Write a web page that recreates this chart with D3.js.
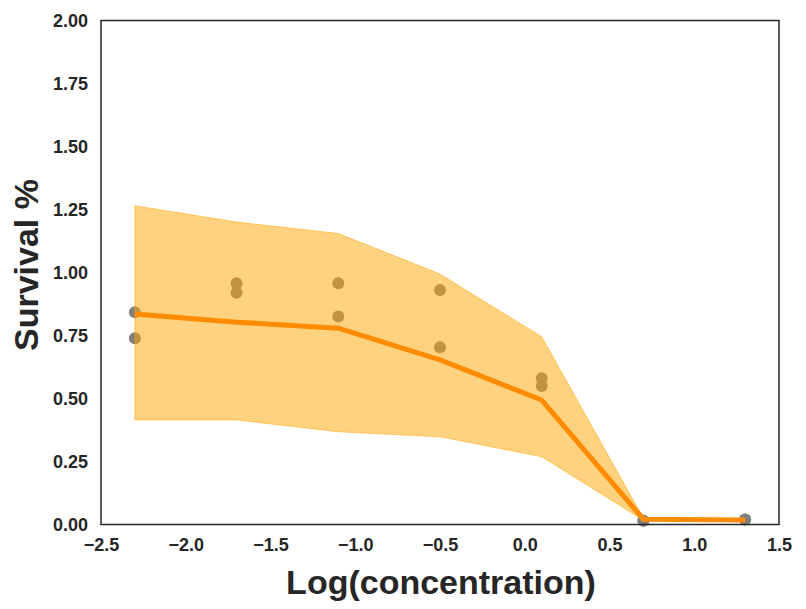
<!DOCTYPE html>
<html>
<head>
<meta charset="utf-8">
<script src="https://cdn.jsdelivr.net/npm/d3@7"></script>
<style>
  body { margin: 0; background: #fff; }
  svg { display: block; font-family: "Liberation Sans", Arial, sans-serif; }
  .tick text { font-weight: bold; fill: #262626; font-size: 18px; }
  .axisLabel { font-weight: bold; fill: #262626; font-size: 34px; }
</style>
</head>
<body>
<div id="container"></div>
<script>
// log concentrations
var logConc = [-2.3, -1.7, -1.1, -0.5, 0.1, 0.7, 1.3];
// mean survival and confidence band
var meanSurvival = [0.835, 0.803, 0.779, 0.653, 0.494, 0.021, 0.018];
var upperBand = [1.265, 1.200, 1.155, 0.994, 0.745, 0.025, 0.021];
var lowerBand = [0.415, 0.415, 0.368, 0.348, 0.269, 0.017, 0.016];
// replicate observations
var obsConc = [-2.3, -2.3, -1.7, -1.7, -1.1, -1.1, -0.5, -0.5, 0.1, 0.1, 0.7, 0.7, 1.3, 1.3];
var obsSurvival = [0.842, 0.739, 0.957, 0.920, 0.957, 0.825, 0.931, 0.703, 0.580, 0.550, 0.015, 0.015, 0.020, 0.020];
var xTicks = [-2.5, -2.0, -1.5, -1.0, -0.5, 0.0, 0.5, 1.0, 1.5];
var yTicks = [0, 0.25, 0.5, 0.75, 1.0, 1.25, 1.5, 1.75, 2.0];

var width = 806, height = 609;
var margin = { top: 20.5, right: 27, bottom: 84.5, left: 101 };

var svg = d3.select("#container")
  .append("svg")
    .attr("width", width)
    .attr("height", height);

var x = d3.scaleLinear()
  .domain([-2.5, 1.5])
  .range([margin.left, width - margin.right]);
var y = d3.scaleLinear()
  .domain([0, 2])
  .range([height - margin.bottom, margin.top]);

var bandData = logConc.map(function(d, i) {
  return { x: d, lo: lowerBand[i], hi: upperBand[i], mean: meanSurvival[i] };
});

// points first, band goes over them
svg.append("g")
  .selectAll("circle")
    .data(obsConc)
  .enter().append("circle")
    .attr("cx", function(d) { return x(d); })
    .attr("cy", function(d, i) { return y(obsSurvival[i]); })
    .attr("r", 6)
    .attr("fill", "#808080");

var area = d3.area()
  .x(function(d) { return x(d.x); })
  .y0(function(d) { return y(d.lo); })
  .y1(function(d) { return y(d.hi); });

svg.append("path")
  .attr("d", area(bandData))
  .attr("fill", "orange")
  .attr("fill-opacity", 0.5)
  .attr("stroke", "orange")
  .attr("stroke-opacity", 0.5)
  .attr("stroke-width", 1);

var line = d3.line()
  .x(function(d) { return x(d.x); })
  .y(function(d) { return y(d.mean); });

svg.append("path")
  .attr("d", line(bandData))
  .attr("fill", "none")
  .attr("stroke", "#ff8c00")
  .attr("stroke-width", 5)
  .attr("stroke-linejoin", "round");

// axes
var xAxis = d3.axisBottom(x)
  .tickValues(xTicks)
  .tickFormat(d3.format(".1f"))
  .tickSize(0)
  .tickPadding(14);
var yAxis = d3.axisLeft(y)
  .tickValues(yTicks)
  .tickFormat(d3.format(".2f"))
  .tickSize(0)
  .tickPadding(13);

var xAxisGroup = svg.append("g")
  .attr("transform", "translate(0," + (height - margin.bottom) + ")")
  .call(xAxis);
var yAxisGroup = svg.append("g")
  .attr("transform", "translate(" + margin.left + ",0)")
  .call(yAxis);
svg.selectAll(".domain").remove();
yAxisGroup.selectAll(".tick text").attr("dy", "0.35em");

// frame
svg.append("rect")
  .attr("x", margin.left)
  .attr("y", margin.top)
  .attr("width", width - margin.left - margin.right)
  .attr("height", height - margin.top - margin.bottom)
  .attr("fill", "none")
  .attr("stroke", "#262626")
  .attr("stroke-width", 1.5);

svg.append("text")
  .classed("axisLabel", true)
  .attr("x", 441)
  .attr("y", 594)
  .attr("text-anchor", "middle")
  .text("Log(concentration)");

svg.append("text")
  .classed("axisLabel", true)
  .attr("transform", "translate(38,265) rotate(-90)")
  .attr("text-anchor", "middle")
  .text("Survival %");
</script>
</body>
</html>
